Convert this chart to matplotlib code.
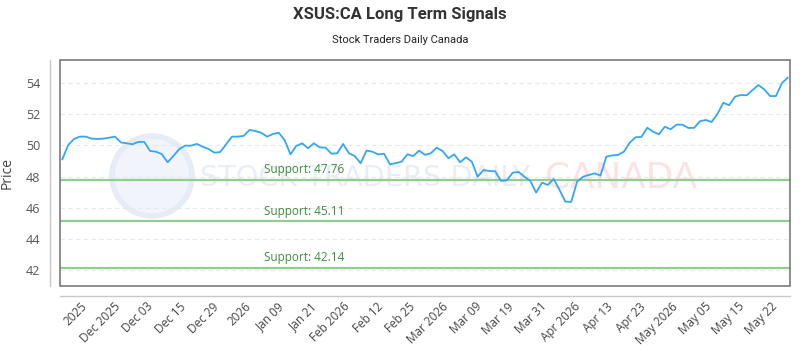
import numpy as np
import matplotlib
matplotlib.use("Agg")
import matplotlib.pyplot as plt
from matplotlib.patches import Rectangle, Ellipse

# ---- data ----
prices = [
    49.11, 50.03, 50.42, 50.57, 50.57, 50.44, 50.42, 50.44, 50.50, 50.57,
    50.20, 50.14, 50.08, 50.23, 50.23, 49.65, 49.60, 49.45, 48.92, 49.33,
    49.77, 49.99, 49.99, 50.10, 49.92, 49.77, 49.54, 49.58, 50.08, 50.57,
    50.57, 50.62, 51.00, 50.93, 50.82, 50.57, 50.74, 50.82, 50.35, 49.43,
    49.97, 50.14, 49.82, 50.14, 49.88, 49.86, 49.47, 49.50, 50.10, 49.50,
    49.32, 48.86, 49.67, 49.60, 49.43, 49.47, 48.79, 48.86, 48.96, 49.43,
    49.32, 49.67, 49.40, 49.50, 49.86, 49.65, 49.18, 49.43, 48.92, 49.24,
    48.96, 47.99, 48.42, 48.36, 48.34, 47.72, 47.76, 48.25, 48.30, 47.99,
    47.72, 46.97, 47.61, 47.46, 47.85, 47.14, 46.39, 46.37, 47.67, 47.99,
    48.10, 48.21, 48.06, 49.28, 49.36, 49.39, 49.60, 50.18, 50.53, 50.55,
    51.14, 50.89, 50.72, 51.21, 51.04, 51.34, 51.34, 51.13, 51.13, 51.56,
    51.64, 51.51, 52.03, 52.75, 52.59, 53.14, 53.25, 53.23, 53.57, 53.89,
    53.61, 53.18, 53.18, 54.00, 54.36,
]
tick_labels = [
    "2025", "Dec 2025", "Dec 03", "Dec 15", "Dec 29", "2026", "Jan 09",
    "Jan 21", "Feb 2026", "Feb 12", "Feb 25", "Mar 2026", "Mar 09", "Mar 19",
    "Mar 31", "Apr 2026", "Apr 13", "Apr 23", "May 2026", "May 05", "May 15",
    "May 22",
]
support_levels = [47.76, 45.11, 42.14]
y_ticks = [42, 44, 46, 48, 50, 52, 54]

title = "XSUS:CA Long Term Signals"
subtitle = "Stock Traders Daily Canada"

# ---- figure ----
fig = plt.figure(figsize=(8, 3.5), dpi=100)
ax = fig.add_axes([60 / 800, 1 - 286 / 350, 730 / 800, 226 / 350])

# spines first (set_position resets tick label properties)
for s in ["top", "right"]:
    ax.spines[s].set_visible(False)
ax.spines["left"].set_position(("outward", 7.2))
ax.spines["bottom"].set_position(("outward", 7.2))
ax.spines["left"].set_color("#c8c8c8")
ax.spines["bottom"].set_color("#c8c8c8")
ax.spines["left"].set_linewidth(1)
ax.spines["bottom"].set_linewidth(1)

x = np.arange(len(prices))
ax.set_xlim(-0.4, len(prices) - 0.6)
ax.set_ylim(40.96, 55.5)

# watermark (behind everything in the axes)
circ = Ellipse((152 / 800, 1 - 176 / 350), 80 / 800, 80 / 350, transform=fig.transFigure,
               facecolor="#f1f5fb", edgecolor="#e6ecf5", linewidth=4, zorder=0,
               clip_on=False)
ax.add_patch(circ)
wm1 = ax.text(200 / 800, 1 - 178 / 350, "STOCK TRADERS DAILY", fontsize=26,
              family="DejaVu Sans", color="#e9edf4", transform=fig.transFigure,
              va="center", ha="left", zorder=0)
wm2 = ax.text(545 / 800, 1 - 178 / 350, "CANADA", fontsize=26,
              family="DejaVu Sans", color="#fce2e2", transform=fig.transFigure,
              va="center", ha="left", zorder=0)
fig.canvas.draw()
r = fig.canvas.get_renderer()
wm1.set_fontsize(26 * 330 / wm1.get_window_extent(r).width)
wm2.set_fontsize(26 * 152 / wm2.get_window_extent(r).width)

# grid
for yt in y_ticks:
    ax.axhline(yt, color="#e8e8e8", linewidth=0.8, linestyle=(0, (4, 3)), zorder=1)

# support lines
for lvl in support_levels:
    ax.axhline(lvl, color="#92cc92", linewidth=1.6, zorder=2)
    ax.text(34.5, lvl + 0.25, f"Support: {lvl:.2f}", color="#3d8c3d",
            fontsize=8.5, family="Open Sans", ha="left", va="bottom", zorder=3)

ax.plot(x, prices, color="#35a6f3", linewidth=1.3, zorder=4)

# ticks
ax.set_yticks(y_ticks)
ax.set_yticklabels([str(v) for v in y_ticks], family="Open Sans", fontsize=9, color="#555555")
tick_pos = np.linspace(4.7, 122.6, len(tick_labels))
ax.set_xticks(tick_pos)
ax.set_xticklabels(tick_labels, rotation=45, ha="right", va="top",
                   family="Open Sans", fontsize=8.5, color="#444444")
ax.tick_params(axis="both", length=0)
ax.tick_params(axis="x", pad=3)
ax.tick_params(axis="y", pad=7)

ax.set_ylabel("Price", family="Open Sans", fontsize=10, color="#444444")
ax.yaxis.set_label_coords(-45 / 730, 0.5)

frame = Rectangle((0, 0), 1, 1, transform=ax.transAxes, fill=False,
                  edgecolor="#7a7a7a", linewidth=1.2, zorder=5, clip_on=False)
ax.add_patch(frame)

fig.text(0.5, 1 - 15 / 350, title, ha="center", va="center", family="Roboto",
         fontweight="bold", fontsize=12, color="#333333")
fig.text(0.5, 1 - 40 / 350, subtitle, ha="center", va="center", family="Roboto",
         fontsize=8, color="#222222")

fig.savefig("out.png", dpi=100)
